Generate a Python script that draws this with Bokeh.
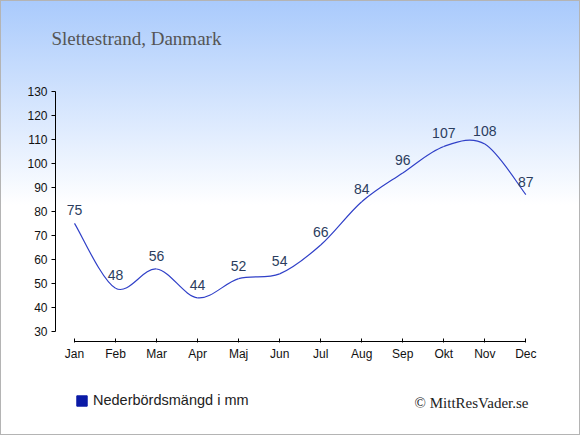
import numpy as np
from bokeh.plotting import figure
from bokeh.models import (LinearAxis, FixedTicker, Range1d, ColumnDataSource,
                          Label, Legend, LegendItem)
from bokeh.core.properties import value
from bokeh.embed import file_html
from bokeh.resources import INLINE

# ---- data ----
months = ["Jan", "Feb", "Mar", "Apr", "Maj", "Jun", "Jul", "Aug", "Sep", "Okt", "Nov", "Dec"]
precip = [75, 48, 56, 44, 52, 54, 66, 84, 96, 107, 108, 87]
y_ticks = [30, 40, 50, 60, 70, 80, 90, 100, 110, 120, 130]
title_text = "Slettestrand, Danmark"
legend_text = "Nederbördsmängd i mm"
credit_text = "© MittResVader.se"

idx = list(range(len(months)))

W, H = 580, 435
PX_X = 41.03          # pixels per month
PX_Y = 2.403          # pixels per mm
X0 = 74.0             # pixel of first month
Y30 = 331.0           # pixel of 30 mm


def dx(px):
    return (px - X0) / PX_X


def dy(py):
    return 30 + (Y30 - py) / PX_Y


p = figure(width=W, height=H, output_backend="svg", toolbar_location=None,
           x_range=Range1d(dx(0), dx(W)), y_range=Range1d(dy(H), dy(0)),
           x_axis_location=None, y_axis_location=None,
           min_border_left=0, min_border_right=0,
           min_border_top=0, min_border_bottom=0)
for g in p.grid:
    g.visible = False
p.background_fill_color = None
p.border_fill_color = None
p.outline_line_color = None
p.styles = {"background": "linear-gradient(to bottom, #a9cafc 0px, #ffffff 205px)",
            "box-shadow": "inset 0 0 0 1px #b4b4b4"}

# ---- axes ----
yaxis = LinearAxis(ticker=FixedTicker(ticks=y_ticks), bounds=(30, 130),
                   fixed_location=dx(55),
                   major_tick_in=0, major_tick_out=4,
                   minor_tick_in=0, minor_tick_out=0,
                   major_label_standoff=4,
                   axis_line_color="#000000", major_tick_line_color="#000000",
                   major_label_text_font="Liberation Sans",
                   major_label_text_font_size="12px",
                   major_label_text_color="#111111")
p.add_layout(yaxis, "left")

xaxis = LinearAxis(ticker=FixedTicker(ticks=idx), bounds=(0, 11),
                   fixed_location=dy(341),
                   major_label_overrides={i: m for i, m in zip(idx, months)},
                   major_tick_in=3, major_tick_out=1,
                   minor_tick_in=0, minor_tick_out=0,
                   major_label_standoff=4,
                   axis_line_color="#000000", major_tick_line_color="#000000",
                   major_label_text_font="Liberation Sans",
                   major_label_text_font_size="12px",
                   major_label_text_color="#111111")
p.add_layout(xaxis, "below")

# ---- smooth (Catmull-Rom) curve through the data, drawn as bezier segments ----
xs = np.array(idx, dtype=float)
ys = np.array(precip, dtype=float)
n = len(xs)
i0 = np.arange(n - 1)
i1 = i0 + 1
prev_i = np.clip(i0 - 1, 0, n - 1)
next_i = np.clip(i0 + 2, 0, n - 1)
seg = ColumnDataSource(dict(
    x0=xs[i0], y0=ys[i0], x1=xs[i1], y1=ys[i1],
    cx0=xs[i0] + (xs[i1] - xs[prev_i]) / 6.0,
    cy0=ys[i0] + (ys[i1] - ys[prev_i]) / 6.0,
    cx1=xs[i1] - (xs[next_i] - xs[i0]) / 6.0,
    cy1=ys[i1] - (ys[next_i] - ys[i0]) / 6.0,
))
p.bezier(x0="x0", y0="y0", x1="x1", y1="y1", cx0="cx0", cy0="cy0",
         cx1="cx1", cy1="cy1", source=seg, line_color="#3040c8", line_width=1.2)

# ---- value labels ----
p.text(x=idx, y=precip, text=[str(v) for v in precip],
       text_align="center", text_baseline="middle", y_offset=-13,
       text_font=value("Liberation Sans"), text_font_size="14px",
       text_color="#2b3d5e")

# ---- title and credit ----
p.add_layout(Label(x=dx(51), y=dy(38.3), text=title_text,
                   text_font="Liberation Serif", text_font_size="19px",
                   text_color="#555555", text_align="left",
                   text_baseline="alphabetic"))
p.add_layout(Label(x=dx(528), y=dy(402.7), text=credit_text,
                   text_font="Liberation Serif", text_font_size="15px",
                   text_color="#222222", text_align="right",
                   text_baseline="alphabetic"))

# ---- legend (swatch only: the dummy quad has no drawable coordinates) ----
leg_src = ColumnDataSource(dict(l=[np.nan], r=[np.nan], t=[np.nan], b=[np.nan]))
leg_r = p.quad(left="l", right="r", top="t", bottom="b", source=leg_src,
               fill_color="#0a1aa6", line_color="#0a1aa6")
legend = Legend(items=[LegendItem(label=value(legend_text), renderers=[leg_r])],
                location=(75, 27), padding=0, margin=0,
                glyph_width=13, glyph_height=13, label_standoff=5,
                label_height=16,
                label_text_font="Liberation Sans", label_text_font_size="14.5px",
                label_text_color="#222222",
                border_line_color=None, background_fill_alpha=0)
p.add_layout(legend)

open("out.html", "w").write(file_html(p, INLINE))
